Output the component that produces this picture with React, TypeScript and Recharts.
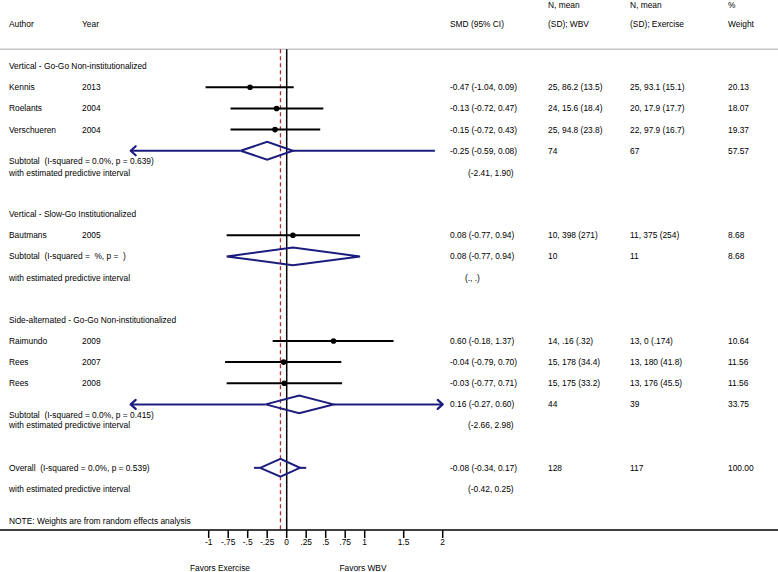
import React from 'react';
import { ComposedChart, Scatter, XAxis, YAxis, ReferenceLine } from 'recharts';

// study rows
const studyAuthors = ['Kennis', 'Roelants', 'Verschueren', 'Bautmans', 'Raimundo', 'Rees', 'Rees'];
const studyYears = ['2013', '2004', '2004', '2005', '2009', '2007', '2008'];
const studySmd = [-0.47, -0.13, -0.15, 0.08, 0.6, -0.04, -0.03];
const studyLow = [-1.04, -0.72, -0.72, -0.77, -0.18, -0.79, -0.77];
const studyHigh = [0.09, 0.47, 0.43, 0.94, 1.37, 0.7, 0.71];
const studyWbv = ['25, 86.2 (13.5)', '24, 15.6 (18.4)', '25, 94.8 (23.8)', '10, 398 (271)', '14, .16 (.32)', '15, 178 (34.4)', '15, 175 (33.2)'];
const studyExercise = ['25, 93.1 (15.1)', '20, 17.9 (17.7)', '22, 97.9 (16.7)', '11, 375 (254)', '13, 0 (.174)', '13, 180 (41.8)', '13, 176 (45.5)'];
const studyWeight = ['20.13', '18.07', '19.37', '8.68', '10.64', '11.56', '11.56'];
const studyRows = [1, 2, 3, 8, 13, 14, 15];

// subgroup headers
const groupNames = [
  'Vertical - Go-Go Non-institutionalized',
  'Vertical - Slow-Go Institutionalized',
  'Side-alternated - Go-Go Non-institutionalized',
];
const groupRows = [0, 7, 12];

// pooled rows (3 subtotals + overall)
const pooledLabels = [
  'Subtotal  (I-squared = 0.0%, p = 0.639)',
  'Subtotal  (I-squared =  %, p =  )',
  'Subtotal  (I-squared = 0.0%, p = 0.415)',
  'Overall  (I-squared = 0.0%, p = 0.539)',
];
const pooledSmd = [-0.25, 0.08, 0.16, -0.08];
const pooledLow = [-0.59, -0.77, -0.27, -0.34];
const pooledHigh = [0.08, 0.94, 0.6, 0.17];
const pooledWbvN = ['74', '10', '44', '128'];
const pooledExerciseN = ['67', '11', '39', '117'];
const pooledWeight = ['57.57', '8.68', '33.75', '100.00'];
const predLow: (number | null)[] = [-2.41, null, -2.66, -0.42];
const predHigh: (number | null)[] = [1.9, null, 2.98, 0.25];
const pooledRows = [4, 9, 16, 19];
const pooledLabelRows = [4.47, 9, 16.49, 19];
const predLabelRows = [5.04, 10, 16.97, 20];

const tickValues = [-1, -0.75, -0.5, -0.25, 0, 0.25, 0.5, 0.75, 1, 1.5, 2];
const tickLabels = ['-1', '-.75', '-.5', '-.25', '0', '.25', '.5', '.75', '1', '1.5', '2'];

// layout
const W = 778;
const H = 572;
const AXIS_H = 42;
const PLOT_H = H - AXIS_H;
const ZERO_PX = 286.7;
const UNIT_PX = 78;
const ROW0_PX = 66.16;
const ROW_PX = 21.14;
const X_DOMAIN = [-ZERO_PX / UNIT_PX, (W - ZERO_PX) / UNIT_PX];
const Y_DOMAIN = [-ROW0_PX / ROW_PX, (PLOT_H - ROW0_PX) / ROW_PX];
const HEADER_ROW = -0.8;
const TOP_ROW = -2.9;
const CLIP = 2; // plotted range is -2..2
const DIAMOND_H = 0.42;

const NAVY = '#1c1c7e';
const FONT = '"Liberation Sans", Arial, Helvetica, sans-serif';
const FS = 8.4;

const COL = { author: 9, year: 82, smd: 450, pred: 468, wbv: 548, exercise: 630, weight: 728 };

const fmt = (v: number) => v.toFixed(2);

type Cell = { x: number; y: number; text: string };
const cells: Cell[] = [
  { x: COL.author, y: -2, text: 'Author' },
  { x: COL.year, y: -2, text: 'Year' },
  { x: COL.smd, y: -2, text: 'SMD (95% CI)' },
  { x: COL.wbv, y: TOP_ROW, text: 'N, mean' },
  { x: COL.wbv, y: -2, text: '(SD); WBV' },
  { x: COL.exercise, y: TOP_ROW, text: 'N, mean' },
  { x: COL.exercise, y: -2, text: '(SD); Exercise' },
  { x: COL.weight, y: TOP_ROW, text: '%' },
  { x: COL.weight, y: -2, text: 'Weight' },
  { x: COL.author, y: 21.5, text: 'NOTE: Weights are from random effects analysis' },
];
groupNames.forEach((g, i) => cells.push({ x: COL.author, y: groupRows[i], text: g }));
studyAuthors.forEach((a, i) => {
  const y = studyRows[i];
  cells.push({ x: COL.author, y, text: a });
  cells.push({ x: COL.year, y, text: studyYears[i] });
  cells.push({ x: COL.smd, y, text: `${fmt(studySmd[i])} (${fmt(studyLow[i])}, ${fmt(studyHigh[i])})` });
  cells.push({ x: COL.wbv, y, text: studyWbv[i] });
  cells.push({ x: COL.exercise, y, text: studyExercise[i] });
  cells.push({ x: COL.weight, y, text: studyWeight[i] });
});
pooledLabels.forEach((l, i) => {
  const y = pooledRows[i];
  cells.push({ x: COL.author, y: pooledLabelRows[i], text: l });
  cells.push({ x: COL.author, y: predLabelRows[i], text: 'with estimated predictive interval' });
  cells.push({ x: COL.smd, y, text: `${fmt(pooledSmd[i])} (${fmt(pooledLow[i])}, ${fmt(pooledHigh[i])})` });
  cells.push({ x: COL.wbv, y, text: pooledWbvN[i] });
  cells.push({ x: COL.exercise, y, text: pooledExerciseN[i] });
  cells.push({ x: COL.weight, y, text: pooledWeight[i] });
  const lo = predLow[i];
  const hi = predHigh[i];
  cells.push(
    lo == null || hi == null
      ? { x: COL.pred - 3, y: predLabelRows[i], text: '(., .)' }
      : { x: COL.pred, y: predLabelRows[i], text: `(${fmt(lo)}, ${fmt(hi)})` }
  );
});

const studyPoints = studySmd.map((v, i) => ({ x: v, y: studyRows[i] }));

const diamonds = pooledSmd.map((v, i) => {
  const y = pooledRows[i];
  return [
    { x: pooledLow[i], y },
    { x: v, y: y - DIAMOND_H },
    { x: pooledHigh[i], y },
    { x: v, y: y + DIAMOND_H },
    { x: pooledLow[i], y },
  ];
});

// predictive interval segments outside the diamond, clipped to the plotted range
const predSegments: { x: number; y: number }[][] = [];
const arrows: { x: number; y: number; dir: number }[] = [];
pooledRows.forEach((y, i) => {
  const lo = predLow[i];
  const hi = predHigh[i];
  if (lo == null || hi == null) return;
  const l = Math.max(lo, -CLIP);
  const h = Math.min(hi, CLIP);
  predSegments.push([{ x: l, y }, { x: pooledLow[i], y }]);
  predSegments.push([{ x: pooledHigh[i], y }, { x: h, y }]);
  if (lo < -CLIP) arrows.push({ x: l, y, dir: -1 });
  if (hi > CLIP) arrows.push({ x: h, y, dir: 1 });
});

const Empty = () => <g />;

const TextCell = (props: any) => (
  <text
    x={props.cx}
    y={props.cy}
    dy="0.35em"
    fontSize={FS}
    fontFamily={FONT}
    fill="#000"
    style={{ whiteSpace: 'pre' }}
  >
    {props.payload.text}
  </text>
);

const Dot = (props: any) => <circle cx={props.cx} cy={props.cy} r={2.8} fill="#000" />;

const Arrow = (props: any) => {
  const d = props.payload.dir;
  const { cx, cy } = props;
  return (
    <path
      d={`M${cx - d * 5},${cy - 4.5} L${cx},${cy} L${cx - d * 5},${cy + 4.5}`}
      fill="none"
      stroke={NAVY}
      strokeWidth={2.2}
      strokeLinecap="round"
      strokeLinejoin="round"
    />
  );
};

const Tick = (props: any) => {
  const { x, y, payload } = props;
  const i = tickValues.indexOf(payload.value);
  return (
    <text x={x} y={y} dy="0.71em" textAnchor="middle" fontSize={FS} fontFamily={FONT} fill="#000">
      {tickLabels[i]}
    </text>
  );
};

export default function App() {
  return (
    <div style={{ position: 'relative', width: W, height: H, background: '#fff' }}>
      <style>{'body{margin:0}'}</style>
      <ComposedChart width={W} height={H} margin={{ top: 0, right: 0, bottom: 0, left: 0 }}>
        <XAxis
          type="number"
          dataKey="x"
          domain={X_DOMAIN}
          allowDataOverflow
          ticks={tickValues}
          interval={0}
          height={AXIS_H}
          tickSize={8}
          tickMargin={1}
          axisLine={{ stroke: '#000', strokeWidth: 1.5 }}
          tickLine={{ stroke: '#000', strokeWidth: 1.5 }}
          tick={<Tick />}
        />
        <XAxis xAxisId="px" type="number" dataKey="x" domain={[0, W]} allowDataOverflow hide />
        <YAxis type="number" dataKey="y" domain={Y_DOMAIN} allowDataOverflow reversed hide />

        <ReferenceLine y={HEADER_ROW} stroke="#c6c6c6" strokeWidth={1.5} />
        <ReferenceLine
          segment={[{ x: 0, y: HEADER_ROW }, { x: 0, y: Y_DOMAIN[1] }]}
          stroke="#000"
          strokeWidth={1.5}
        />
        <ReferenceLine
          segment={[{ x: pooledSmd[3], y: HEADER_ROW }, { x: pooledSmd[3], y: Y_DOMAIN[1] }]}
          stroke="#a83232"
          strokeWidth={1.3}
          strokeDasharray="4 3"
        />

        {studyPoints.map((p, i) => (
          <Scatter
            key={`ci${i}`}
            data={[{ x: studyLow[i], y: p.y }, { x: studyHigh[i], y: p.y }]}
            fill="#000"
            line={{ strokeWidth: 2 }}
            shape={<Empty />}
            isAnimationActive={false}
          />
        ))}
        <Scatter data={studyPoints} shape={<Dot />} isAnimationActive={false} />

        {predSegments.map((seg, i) => (
          <Scatter
            key={`pi${i}`}
            data={seg}
            fill={NAVY}
            line={{ strokeWidth: 2 }}
            shape={<Empty />}
            isAnimationActive={false}
          />
        ))}
        {diamonds.map((d, i) => (
          <Scatter
            key={`dm${i}`}
            data={d}
            fill={NAVY}
            line={{ strokeWidth: 2, strokeLinejoin: 'miter' }}
            shape={<Empty />}
            isAnimationActive={false}
          />
        ))}
        <Scatter data={arrows} shape={<Arrow />} isAnimationActive={false} />

        <Scatter xAxisId="px" data={cells} shape={<TextCell />} isAnimationActive={false} />
      </ComposedChart>
      <div style={{ position: 'absolute', left: 0, top: 562, width: W, fontFamily: FONT, fontSize: FS, lineHeight: '12px' }}>
        <span style={{ position: 'absolute', left: 220, transform: 'translateX(-50%)', whiteSpace: 'nowrap' }}>Favors Exercise</span>
        <span style={{ position: 'absolute', left: 363, transform: 'translateX(-50%)', whiteSpace: 'nowrap' }}>Favors WBV</span>
      </div>
    </div>
  );
}
